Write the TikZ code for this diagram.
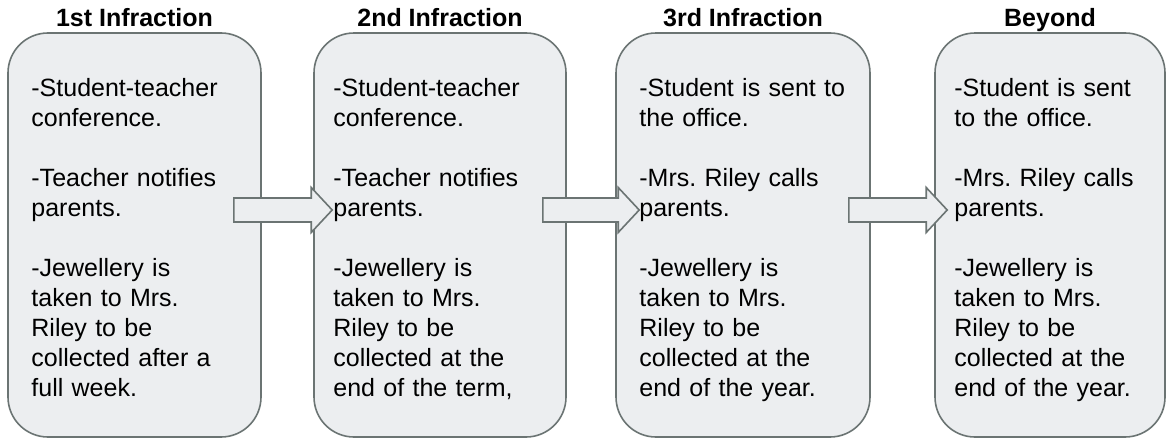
\documentclass[tikz,border=0pt]{standalone}
\usepackage{fontspec}
\setmainfont{Liberation Sans}
\usetikzlibrary{calc,positioning}
\definecolor{boxfill}{HTML}{ECEEF0}
\definecolor{boxline}{HTML}{6B7473}
\tikzset{
  stage/.style={draw=boxline, fill=boxfill, line width=1.6pt, rounded corners=40pt,
    minimum height=404pt, inner sep=0pt},
  heading/.style={font=\fontsize{25}{30}\selectfont\bfseries, anchor=base, inner sep=0pt},
  notes/.style={font=\fontsize{25}{30}\selectfont, anchor=north west, align=left,
    inner sep=0pt, text width=240pt},
  flow/.style={draw=boxline, fill=boxfill, line width=1.6pt, line join=miter}
}
\frenchspacing

\begin{document}
\begin{tikzpicture}[x=1pt,y=-1pt]
    \useasboundingbox (0,0) rectangle (1167,439);
    % Boxes
    \node[stage, minimum width=253pt] (box1) at (134.5,235) {};
    \node[stage, minimum width=252pt] (box2) at (440,235) {};
    \node[stage, minimum width=254pt] (box3) at (743,235) {};
    \node[stage, minimum width=230pt] (box4) at (1050,235) {};
    % Arrows
    \foreach \a/\b/\s/\t in {box1/box2/28/19, box2/box3/24/24, box3/box4/22/13} {
      \coordinate (tail) at ($(\a.east)+(-\s,-25)$);
      \coordinate (tip) at ($(\b.west)+(\t,-25)$);
      \draw[flow] ($(tail)+(0,-12)$) -- ($(tip)+(-21,-12)$) -- ($(tip)+(-21,-22.5)$)
        -- (tip) -- ($(tip)+(-21,22.5)$) -- ($(tip)+(-21,12)$) -- ($(tail)+(0,12)$) -- cycle;
    }
    % Headings
    \node[heading] (head1) at ($(box1.north)+(0,-6)$) {1st Infraction};
    \node[heading] (head2) at ($(box2.north)+(0,-6)$) {2nd Infraction};
    \node[heading] (head3) at ($(box3.north)+(0,-6)$) {3rd Infraction};
    \node[heading] (head4) at ($(box4.north)+(0,-6)$) {Beyond};
    % Texts
    \node[notes] (text1) at ($(box1.north west)+(24,46)$) {-Student-teacher\\conference.\\[30pt]
      -Teacher notifies\\parents.\\[30pt]
      -Jewellery is\\taken to Mrs.\\Riley to be\\collected after a\\full week.};
    \node[notes] (text2) at ($(box2.north west)+(20,46)$) {-Student-teacher\\conference.\\[30pt]
      -Teacher notifies\\parents.\\[30pt]
      -Jewellery is\\taken to Mrs.\\Riley to be\\collected at the\\end of the term,};
    \node[notes] (text3) at ($(box3.north west)+(24,46)$) {-Student is sent to\\the office.\\[30pt]
      -Mrs. Riley calls\\parents.\\[30pt]
      -Jewellery is\\taken to Mrs.\\Riley to be\\collected at the\\end of the year.};
    \node[notes] (text4) at ($(box4.north west)+(20,46)$) {-Student is sent\\to the office.\\[30pt]
      -Mrs. Riley calls\\parents.\\[30pt]
      -Jewellery is\\taken to Mrs.\\Riley to be\\collected at the\\end of the year.};
\end{tikzpicture}
\end{document}
